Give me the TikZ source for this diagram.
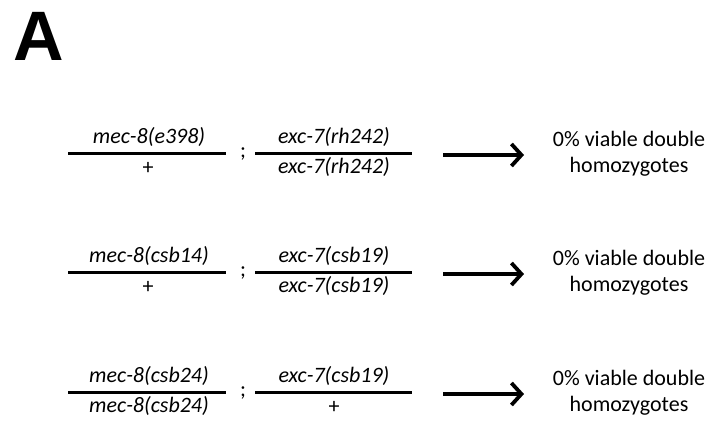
\documentclass[tikz,border=0pt]{standalone}
\usepackage{fontspec}
\usetikzlibrary{arrows.meta}
\newfontfamily\calfont{Carlito}
\newfontfamily\headfont{Liberation Sans}
\tikzset{
  allele/.style={inner sep=0pt, anchor=base, font=\calfont\itshape\fontsize{22}{26}\selectfont},
  plain/.style={inner sep=0pt, anchor=base, font=\calfont\fontsize{22}{26}\selectfont},
  bar/.style={line width=3pt},
  resultarrow/.style={line width=3.5pt, -{Straight Barb[length=10pt,width=22pt,line width=3.8pt]}},
  result/.style={inner sep=0pt, anchor=base, align=center, font=\calfont\fontsize{22}{25.5}\selectfont},
}
\begin{document}
\begin{tikzpicture}[x=1pt,y=-1pt]
\useasboundingbox (0,0) rectangle (718,421);
\node[inner sep=0pt, anchor=base west, font=\headfont\bfseries\fontsize{70}{70}\selectfont] (lbl) at (13,60) {A};

% Row 1
\coordinate (l1a) at (68,153); \coordinate (l1b) at (226,153);
\coordinate (r1a) at (255,153); \coordinate (r1b) at (412,153);
\draw[bar] (l1a) -- (l1b);
\draw[bar] (r1a) -- (r1b);
\node[allele] (t1a) at (149,143) {mec-8(e398)};
\node[plain] (b1a) at (148,174) {+};
\node[plain] (s1) at (243,157) {;};
\node[allele] (t1b) at (334,143) {exc-7(rh242)};
\node[allele] (b1b) at (334,173) {exc-7(rh242)};
\coordinate (a1s) at (443,155); \coordinate (a1e) at (524,155);
\draw[resultarrow] (a1s) -- (a1e);
\node[result] (res1) at (629,172) {0\% viable double\\homozygotes};

% Row 2
\coordinate (l2a) at (68,272); \coordinate (l2b) at (226,272);
\coordinate (r2a) at (255,272); \coordinate (r2b) at (412,272);
\draw[bar] (l2a) -- (l2b);
\draw[bar] (r2a) -- (r2b);
\node[allele] (t2a) at (149,262) {mec-8(csb14)};
\node[plain] (b2a) at (148,293) {+};
\node[plain] (s2) at (243,276) {;};
\node[allele] (t2b) at (334,262) {exc-7(csb19)};
\node[allele] (b2b) at (334,292) {exc-7(csb19)};
\coordinate (a2s) at (443,274); \coordinate (a2e) at (524,274);
\draw[resultarrow] (a2s) -- (a2e);
\node[result] (res2) at (629,291) {0\% viable double\\homozygotes};

% Row 3
\coordinate (l3a) at (68,392); \coordinate (l3b) at (226,392);
\coordinate (r3a) at (255,392); \coordinate (r3b) at (412,392);
\draw[bar] (l3a) -- (l3b);
\draw[bar] (r3a) -- (r3b);
\node[allele] (t3a) at (149,382) {mec-8(csb24)};
\node[allele] (b3a) at (149,412) {mec-8(csb24)};
\node[plain] (s3) at (243,396) {;};
\node[allele] (t3b) at (334,382) {exc-7(csb19)};
\node[plain] (b3b) at (334,413) {+};
\coordinate (a3s) at (443,394); \coordinate (a3e) at (524,394);
\draw[resultarrow] (a3s) -- (a3e);
\node[result] (res3) at (629,411) {0\% viable double\\homozygotes};
\end{tikzpicture}
\end{document}
